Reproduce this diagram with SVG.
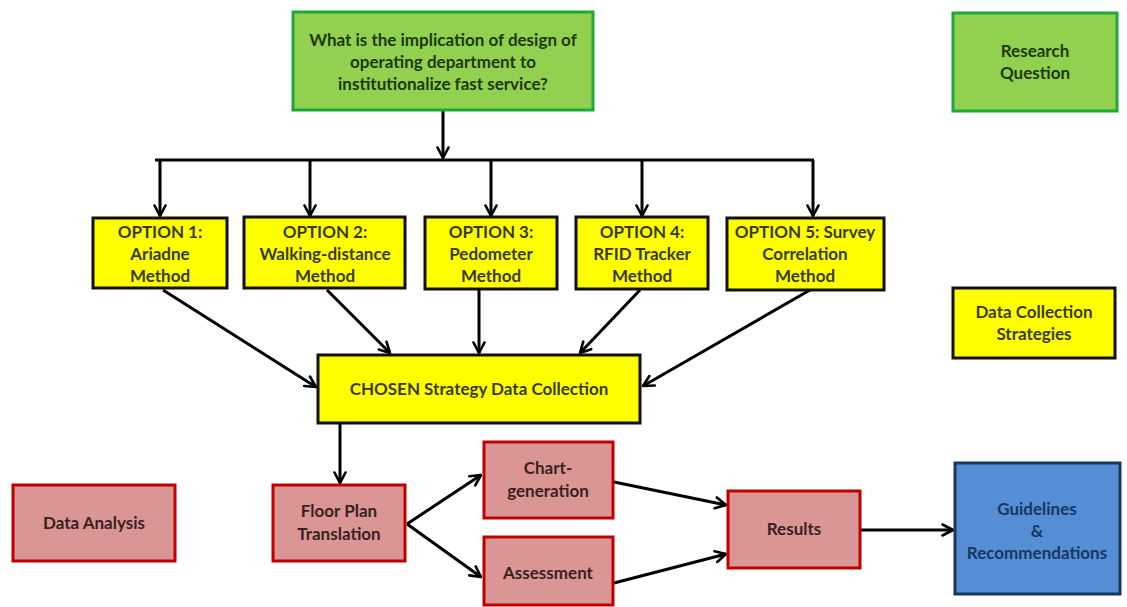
<svg xmlns="http://www.w3.org/2000/svg" width="1127" height="607" viewBox="0 0 1127 607">
  <style>
    text { font-family: Lato, "Open Sans", sans-serif; font-weight: bold; text-anchor: middle; font-size: 17px; }
    .green { fill: #92d050; stroke: #1fa83a; stroke-width: 3; }
    .green-t { fill: #1b3a0c; }
    .yellow { fill: #ffff00; stroke: #111; stroke-width: 3; }
    .yellow-t { fill: #3a3a10; }
    .red { fill: #d99694; stroke: #c00000; stroke-width: 3; }
    .red-t { fill: #3b1f1f; }
    .blue { fill: #558ed5; stroke: #17375e; stroke-width: 3; }
    .blue-t { fill: #17375e; }
    .conn { stroke: #000; stroke-width: 3; fill: none; }
    .arr { marker-end: url(#head); }
  </style>
  <defs>
    <marker id="head" markerUnits="userSpaceOnUse" viewBox="0 0 14 14" refX="12.5" refY="7" markerWidth="14" markerHeight="14" orient="auto">
      <path d="M2,1.5 L12.5,7 L2,12.5" fill="none" stroke="#000" stroke-width="2.6" stroke-linecap="round" stroke-linejoin="round"/>
    </marker>
  </defs>
  <rect width="1127" height="607" fill="#fff"/>

  <!-- connectors -->
  <g id="connectors">
    <line class="conn arr" x1="443" y1="110" x2="443" y2="158"/>
    <line class="conn" x1="155" y1="160" x2="814" y2="160"/>
    <line class="conn arr" x1="160" y1="160" x2="160" y2="216"/>
    <line class="conn arr" x1="310" y1="160" x2="310" y2="216"/>
    <line class="conn arr" x1="491" y1="160" x2="491" y2="216"/>
    <line class="conn arr" x1="642" y1="160" x2="642" y2="216"/>
    <line class="conn arr" x1="813" y1="160" x2="813" y2="216"/>
    <line class="conn arr" x1="163" y1="290" x2="316" y2="387"/>
    <line class="conn arr" x1="327" y1="290" x2="390" y2="353"/>
    <line class="conn arr" x1="479" y1="290" x2="479" y2="353"/>
    <line class="conn arr" x1="640" y1="290" x2="580" y2="353"/>
    <line class="conn arr" x1="810" y1="290" x2="643" y2="386"/>
    <line class="conn arr" x1="340" y1="424" x2="340" y2="483"/>
    <line class="conn arr" x1="407" y1="524" x2="481" y2="475"/>
    <line class="conn arr" x1="407" y1="524" x2="481" y2="577"/>
    <line class="conn arr" x1="614" y1="482" x2="726" y2="505"/>
    <line class="conn arr" x1="614" y1="583" x2="726" y2="554"/>
    <line class="conn arr" x1="861" y1="530" x2="953" y2="530"/>
  </g>

  <g id="question">
    <rect class="green" x="293" y="12" width="300" height="98"/>
    <text class="green-t" x="443" y="46">What is the implication of design of</text>
    <text class="green-t" x="443" y="68">operating department to</text>
    <text class="green-t" x="443" y="90">institutionalize fast service?</text>
  </g>

  <g id="legend-research">
    <rect class="green" x="953" y="13" width="164" height="98"/>
    <text class="green-t" x="1035" y="57">Research</text>
    <text class="green-t" x="1035" y="79">Question</text>
  </g>

  <g id="option1">
    <rect class="yellow" x="93" y="218" width="134" height="70"/>
    <text class="yellow-t" x="160" y="238">OPTION 1:</text>
    <text class="yellow-t" x="160" y="260">Ariadne</text>
    <text class="yellow-t" x="160" y="282">Method</text>
  </g>
  <g id="option2">
    <rect class="yellow" x="244" y="217" width="161" height="71"/>
    <text class="yellow-t" x="325" y="238">OPTION 2:</text>
    <text class="yellow-t" x="325" y="260">Walking-distance</text>
    <text class="yellow-t" x="325" y="282">Method</text>
  </g>
  <g id="option3">
    <rect class="yellow" x="425" y="217" width="132" height="72"/>
    <text class="yellow-t" x="491" y="238">OPTION 3:</text>
    <text class="yellow-t" x="491" y="260">Pedometer</text>
    <text class="yellow-t" x="491" y="282">Method</text>
  </g>
  <g id="option4">
    <rect class="yellow" x="576" y="217" width="132" height="72"/>
    <text class="yellow-t" x="642" y="238">OPTION 4:</text>
    <text class="yellow-t" x="642" y="260">RFID Tracker</text>
    <text class="yellow-t" x="642" y="282">Method</text>
  </g>
  <g id="option5">
    <rect class="yellow" x="727" y="218" width="157" height="72"/>
    <text class="yellow-t" x="805" y="238">OPTION 5: Survey</text>
    <text class="yellow-t" x="805" y="260">Correlation</text>
    <text class="yellow-t" x="805" y="282">Method</text>
  </g>

  <g id="legend-strategies">
    <rect class="yellow" x="953" y="288" width="162" height="70"/>
    <text class="yellow-t" x="1034" y="318">Data Collection</text>
    <text class="yellow-t" x="1034" y="340">Strategies</text>
  </g>

  <g id="chosen">
    <rect class="yellow" x="318" y="355" width="322" height="68"/>
    <text class="yellow-t" x="479" y="395">CHOSEN Strategy Data Collection</text>
  </g>

  <g id="legend-analysis">
    <rect class="red" x="13" y="485" width="162" height="76"/>
    <text class="red-t" x="94" y="529">Data Analysis</text>
  </g>

  <g id="floorplan">
    <rect class="red" x="273" y="485" width="132" height="76"/>
    <text class="red-t" x="339" y="517">Floor Plan</text>
    <text class="red-t" x="339" y="540">Translation</text>
  </g>

  <g id="chart">
    <rect class="red" x="484" y="442" width="129" height="76"/>
    <text class="red-t" x="548" y="474">Chart-</text>
    <text class="red-t" x="548" y="497">generation</text>
  </g>

  <g id="assessment">
    <rect class="red" x="484" y="537" width="129" height="68"/>
    <text class="red-t" x="548" y="579">Assessment</text>
  </g>

  <g id="results">
    <rect class="red" x="728" y="491" width="132" height="77"/>
    <text class="red-t" x="794" y="535">Results</text>
  </g>

  <g id="guidelines">
    <rect class="blue" x="955" y="463" width="165" height="131"/>
    <text class="blue-t" x="1037" y="515">Guidelines</text>
    <text class="blue-t" x="1037" y="537">&amp;</text>
    <text class="blue-t" x="1037" y="559">Recommendations</text>
  </g>
</svg>
